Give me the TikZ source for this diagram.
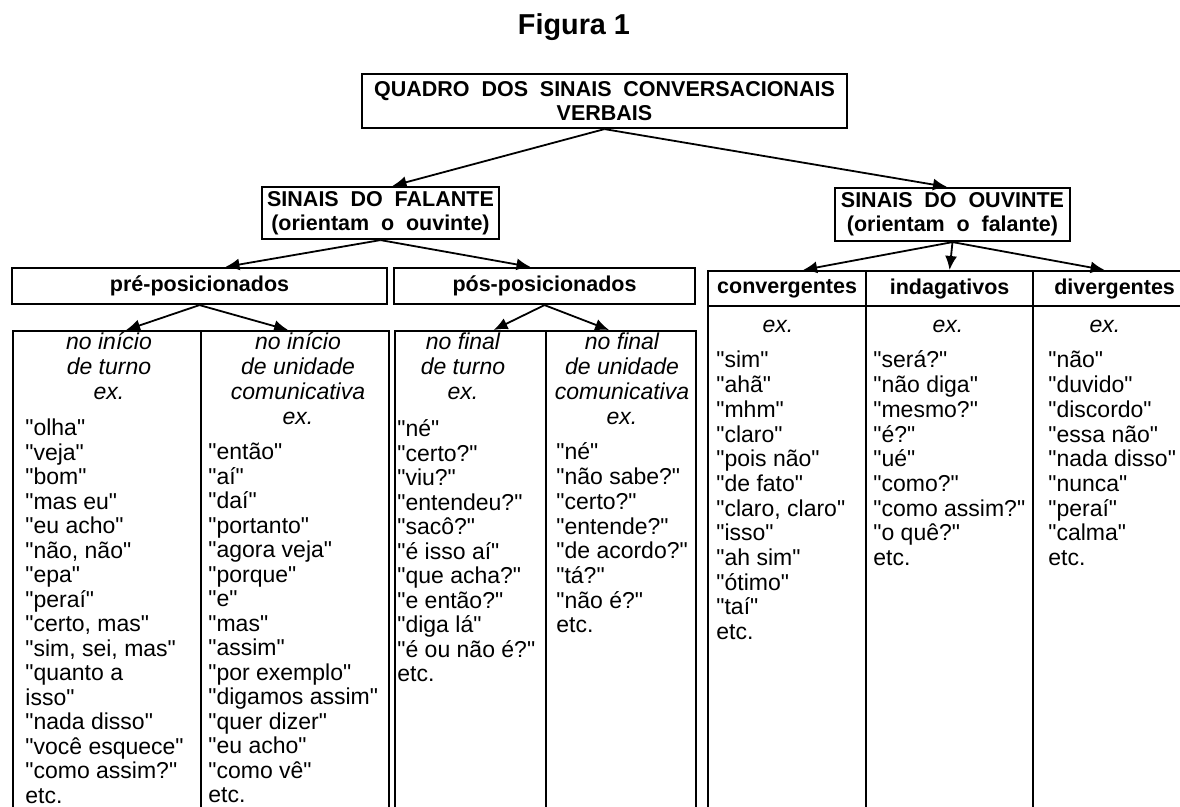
\documentclass[tikz,border=0pt]{standalone}
\usepackage{fontspec}
\setmainfont{Liberation Sans}[Ligatures=TeXOff]
\usetikzlibrary{arrows.meta}

\protected\def\espacado{\spaceskip=.55em\relax}

\tikzset{
    caixa/.style={draw,line width=1.1pt,inner sep=0pt,align=center,
        font=\bfseries\fontsize{10.75}{12.2}\selectfont\espacado},
    coluna/.style={draw,line width=1.1pt,inner sep=0pt,anchor=north west},
    seta/.style={line width=.9pt,-{Latex[length=7pt,width=6pt]}},
    cabeca/.style={inner sep=0pt,anchor=base,font=\itshape\fontsize{11.5}{12}\selectfont},
    exemplo/.style={inner sep=0pt,anchor=base west,font=\fontsize{11.5}{12}\selectfont},
}

\begin{document}
\begin{tikzpicture}[x=.5pt,y=-.5pt]
    \useasboundingbox (0,0) rectangle (1180,807);

    \node[anchor=base,font=\bfseries\fontsize{14.4}{16}\selectfont] (fig) at (574,35) {Figura 1};

    \node[caixa,minimum width=242.5pt,minimum height=27pt] (quadro) at (604.5,101)
        {QUADRO DOS SINAIS CONVERSACIONAIS\\VERBAIS};
    \node[caixa,minimum width=118.5pt,minimum height=26pt] (falante) at (380.5,213)
        {SINAIS DO FALANTE\\(orientam o ouvinte)};
    \node[caixa,minimum width=117.5pt,minimum height=26.5pt] (ouvinte) at (952.5,214.5)
        {SINAIS DO OUVINTE\\(orientam o falante)};

    \node[caixa,minimum width=187.5pt,minimum height=18pt] (pre) at (199.5,286) {pré-posicionados};
    \node[caixa,minimum width=150.5pt,minimum height=18pt] (pos) at (544.5,286) {pós-posicionados};

    % listener side
    \node[caixa,anchor=north west,minimum width=79pt,minimum height=17.5pt] (conv) at (707,270) {convergentes};
    \node[caixa,anchor=north west,minimum width=83.5pt,minimum height=17.5pt] (indag) at (865,270) {indagativos};
    \node[caixa,anchor=north west,minimum width=81.5pt,minimum height=17.5pt] (diverg) at (1032,270) {divergentes};

    % columns
    \node[coluna,minimum width=94pt,minimum height=242.5pt] (colA) at (12,330) {};
    \node[coluna,minimum width=94pt,minimum height=242.5pt] (colB) at (200,330) {};
    \node[coluna,minimum width=75.5pt,minimum height=242.5pt] (colC) at (394,330) {};
    \node[coluna,minimum width=75pt,minimum height=242.5pt] (colD) at (545,330) {};
    \node[coluna,minimum width=79pt,minimum height=255pt] (colE) at (707,305) {};
    \node[coluna,minimum width=83.5pt,minimum height=255pt] (colF) at (865,305) {};
    \node[coluna,minimum width=81.5pt,minimum height=255pt] (colG) at (1032,305) {};

    \draw[seta] (quadro.south) -- ([xshift=6pt]falante.north);
    \draw[seta] (quadro.south) -- ([xshift=-2.75pt]ouvinte.north);
    \draw[seta] (falante.south) -- ([xshift=13pt]pre.north);
    \draw[seta] (falante.south) -- ([xshift=-7pt]pos.north);
    \draw[seta] (pre.south) -- ([xshift=9.5pt]colA.north);
    \draw[seta] (pre.south) -- ([xshift=-3.5pt]colB.north);
    \draw[seta] (pos.south) -- ([xshift=11.5pt]colC.north);
    \draw[seta] (pos.south) -- ([xshift=-6pt]colD.north);
    \draw[seta] (ouvinte.south) -- ([xshift=8pt]conv.north);
    \draw[seta] (ouvinte.south) -- (indag.north);
    \draw[seta] (ouvinte.south) -- ([xshift=-5pt]diverg.north);

    % no inicio de turno
    \foreach \t [count=\i from 0] in {no início, de turno, ex.}
        \node[cabeca] (hA-\i) at (109,{350+25*\i}) {\t};
    \foreach \t [count=\i from 0] in {"olha", "veja", "bom", "mas eu", "eu acho",
        {"não, não"}, "epa", "peraí", {"certo, mas"}, {"sim, sei, mas"}, "quanto a,
        isso", "nada disso", "você esquece", "como assim?", etc.}
        \node[exemplo] (eA-\i) at (25,{436+24.5*\i}) {\t};

    % no inicio de unidade comunicativa
    \foreach \t [count=\i from 0] in {no início, de unidade, comunicativa, ex.}
        \node[cabeca] (hB-\i) at (298,{350+24.7*\i}) {\t};
    \foreach \t [count=\i from 0] in {"então", "aí", "daí", "portanto", "agora veja",
        "porque", "e", "mas", "assim", "por exemplo", "digamos assim", "quer dizer",
        "eu acho", "como vê", etc.}
        \node[exemplo] (eB-\i) at (208,{460+24.5*\i}) {\t};

    % no final de turno
    \foreach \t [count=\i from 0] in {no final, de turno, ex.}
        \node[cabeca] (hC-\i) at (463,{350+25*\i}) {\t};
    \foreach \t [count=\i from 0] in {"né", "certo?", "viu?", "entendeu?", "sacô?",
        "é isso aí", "que acha?", "e então?", "diga lá", "é ou não é?", etc.}
        \node[exemplo] (eC-\i) at (397,{437+24.5*\i}) {\t};

    % no final de unidade comunicativa
    \foreach \t [count=\i from 0] in {no final, de unidade, comunicativa, ex.}
        \node[cabeca] (hD-\i) at (622,{350+25*\i}) {\t};
    \foreach \t [count=\i from 0] in {"né", "não sabe?", "certo?", "entende?",
        "de acordo?", "tá?", "não é?", etc.}
        \node[exemplo] (eD-\i) at (556,{460+24.7*\i}) {\t};

    % convergentes
    \node[cabeca] (hE) at (778,333) {ex.};
    \foreach \t [count=\i from 0] in {"sim", "ahã", "mhm", "claro", "pois não",
        "de fato", {"claro, claro"}, "isso", "ah sim", "ótimo", "taí", etc.}
        \node[exemplo] (eE-\i) at (716,{368+24.7*\i}) {\t};

    % indagativos
    \node[cabeca] (hF) at (948,333) {ex.};
    \foreach \t [count=\i from 0] in {"será?", "não diga", "mesmo?", "é?", "ué",
        "como?", "como assim?", "o quê?", etc.}
        \node[exemplo] (eF-\i) at (873,{368+24.7*\i}) {\t};

    % divergentes
    \node[cabeca] (hG) at (1105,333) {ex.};
    \foreach \t [count=\i from 0] in {"não", "duvido", "discordo", "essa não",
        "nada disso", "nunca", "peraí", "calma", etc.}
        \node[exemplo] (eG-\i) at (1048,{368+24.7*\i}) {\t};
\end{tikzpicture}
\end{document}
